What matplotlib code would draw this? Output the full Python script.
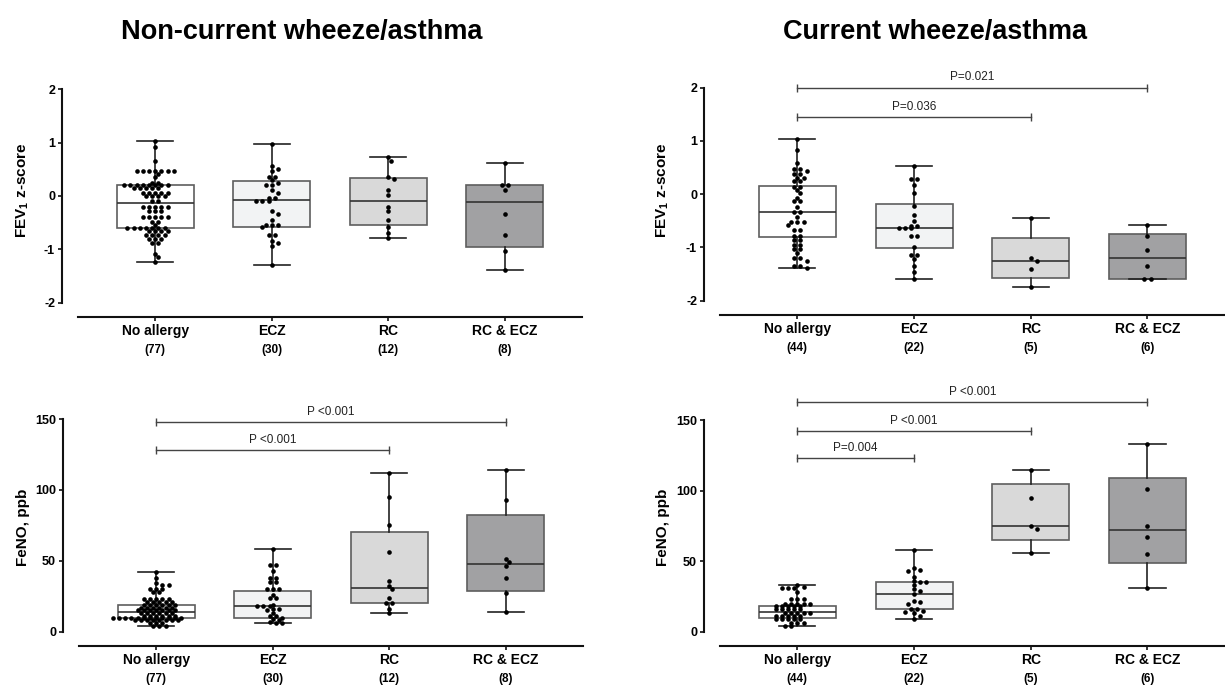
import numpy as np
import matplotlib.pyplot as plt

plt.rcParams['font.family'] = ['Liberation Sans', 'DejaVu Sans']
plt.rcParams['axes.unicode_minus'] = False
plt.rcParams['mathtext.fontset'] = 'custom'
plt.rcParams['mathtext.rm'] = 'Liberation Sans'
plt.rcParams['mathtext.bf'] = 'Liberation Sans:bold'

groups = ["No allergy", "ECZ", "RC", "RC & ECZ"]
n_noncurrent = [77, 30, 12, 8]
n_current = [44, 22, 5, 6]
box_fill = ["#ffffff", "#f2f3f4", "#d9d9d9", "#a1a1a3"]

# FEV1 z-score, non-current wheeze/asthma
fev_nc_noallergy = [1.02, 0.91, 0.66,
                    0.47, 0.47, 0.47, 0.47, 0.47, 0.47, 0.47,
                    0.41, 0.35, 0.25, 0.25,
                    0.20, 0.20, 0.20, 0.20, 0.20, 0.20, 0.20, 0.20,
                    0.15, 0.15, 0.15, 0.15, 0.15,
                    0.06, 0.06, 0.06, 0.06, 0.06,
                    0.00, 0.00, 0.00, 0.00,
                    -0.09, -0.09,
                    -0.20, -0.20, -0.20, -0.20, -0.20,
                    -0.29, -0.29, -0.29,
                    -0.39, -0.39, -0.39, -0.39, -0.39,
                    -0.49, -0.49, -0.55,
                    -0.60, -0.60, -0.60, -0.60, -0.60, -0.60, -0.60,
                    -0.66, -0.66, -0.66, -0.66,
                    -0.73, -0.73, -0.73, -0.73,
                    -0.80, -0.80, -0.80,
                    -0.88, -0.88,
                    -1.09, -1.15, -1.24]
fev_nc_ecz = [0.98, 0.56, 0.51, 0.46, 0.36, 0.36, 0.30, 0.25, 0.20, 0.20,
              0.11, 0.06, -0.04, -0.04, -0.09, -0.09, -0.09, -0.29, -0.34, -0.45,
              -0.54, -0.54, -0.54, -0.58, -0.74, -0.74, -0.84, -0.88, -0.94, -1.29]
fev_nc_rc = [0.73, 0.66, 0.36, 0.31, 0.11, 0.01, -0.20, -0.29, -0.45, -0.59, -0.70, -0.79]
fev_nc_rcecz = [0.61, 0.20, 0.20, 0.11, -0.34, -0.74, -1.04, -1.39]

# FEV1 z-score, current wheeze/asthma
fev_c_noallergy = [1.03, 0.83, 0.58, 0.47, 0.47, 0.43, 0.38, 0.38, 0.31, 0.31,
                   0.25, 0.25, 0.14, 0.14, 0.08, 0.02, -0.07, -0.13, -0.13, -0.25,
                   -0.34, -0.34, -0.43, -0.53, -0.53, -0.53, -0.58, -0.67, -0.67, -0.78,
                   -0.78, -0.87, -0.87, -0.95, -0.95, -1.03, -1.03, -1.11, -1.20, -1.20,
                   -1.25, -1.34, -1.34, -1.39]
fev_c_ecz = [0.53, 0.29, 0.29, 0.17, 0.02, -0.23, -0.39, -0.50, -0.59, -0.59,
             -0.64, -0.64, -0.64, -0.78, -0.78, -1.00, -1.14, -1.14, -1.21, -1.35,
             -1.47, -1.60]
fev_c_rc = [-0.44, -1.20, -1.25, -1.40, -1.74]
fev_c_rcecz = [-0.58, -0.79, -1.05, -1.35, -1.59, -1.59]

# FeNO ppb, non-current wheeze/asthma
feno_nc_noallergy = [42, 38, 34, 33, 33, 30, 30, 30, 28, 28,
                     23, 23, 23, 23, 23, 21, 21, 21, 21, 21,
                     19, 19, 19, 19, 19, 19, 17, 17, 17, 17, 17, 17,
                     15, 15, 15, 15, 15, 15, 15, 13, 13, 13, 13, 13, 13,
                     11, 11, 11, 11, 11, 11,
                     10, 10, 10, 10, 10, 10, 10, 10, 10, 10, 10, 10,
                     8, 8, 8, 8, 8, 8, 8, 8, 6, 6, 6, 4, 4, 4]
feno_nc_ecz = [58, 47, 47, 43, 38, 38, 35, 35, 30, 30, 30, 26, 24, 24, 19,
               18, 18, 18, 16, 16, 15, 13, 11, 11, 10, 9, 8, 7, 6, 6]
feno_nc_rc = [112, 95, 75, 56, 36, 32, 30, 24, 20, 20, 16, 13]
feno_nc_rcecz = [114, 93, 51, 49, 46, 38, 27, 14]

# FeNO ppb, current wheeze/asthma
feno_c_noallergy = [33, 32, 31, 31, 31, 28, 23, 23, 23,
                    20, 20, 20, 20, 20, 18, 18, 18, 18, 18,
                    16, 16, 16, 16, 16, 13, 13, 13, 13, 13,
                    11, 11, 11, 11, 11, 9, 9, 9, 9, 9, 6, 6, 6, 4, 4]
feno_c_ecz = [58, 45, 44, 43, 39, 36, 35, 35, 33, 30, 29, 27, 22, 21, 20,
              16, 16, 15, 14, 13, 11, 9]
feno_c_rc = [115, 95, 75, 73, 56]
feno_c_rcecz = [133, 101, 75, 67, 55, 31]

# box stats: whisker low, q1, median, q3, whisker high
fev_nc_box = [[-1.24, -0.60, -0.14, 0.21, 1.03], [-1.29, -0.58, -0.08, 0.27, 0.98],
              [-0.79, -0.55, -0.09, 0.34, 0.72], [-1.39, -0.96, -0.12, 0.21, 0.61]]
fev_c_box = [[-1.39, -0.81, -0.34, 0.16, 1.03], [-1.60, -1.02, -0.64, -0.18, 0.53],
             [-1.74, -1.57, -1.25, -0.82, -0.44], [-1.59, -1.59, -1.19, -0.75, -0.58]]
feno_nc_box = [[4, 10, 14, 19, 42], [6, 10, 18, 29, 58],
               [13, 20, 31, 70, 112], [14, 29, 48, 82, 114]]
feno_c_box = [[4, 10, 14, 18, 33], [9, 16, 27, 35, 58],
              [56, 65, 75, 105, 115], [31, 49, 72, 109, 133]]

# comparisons: (group a, group b, height, label)
fev_c_pvals = [(0, 3, 2.0, "P=0.021"), (0, 2, 1.45, "P=0.036")]
feno_nc_pvals = [(0, 3, 148, "P <0.001"), (0, 2, 128, "P <0.001")]
feno_c_pvals = [(0, 3, 163, "P <0.001"), (0, 2, 142, "P <0.001"), (0, 1, 123, "P=0.004")]

W, H = 1225, 688
fig = plt.figure(figsize=(W / 100, H / 100), dpi=100)


def swarm_x(ax, x0, values, d=6.2, dmin=4.2):
    """Prism-like rows: equal values spread side by side, nudged off the row above."""
    vals = np.asarray(values, dtype=float)
    py_all = ax.transData.transform(np.column_stack([np.zeros(len(vals)), vals]))[:, 1]
    ppu = ax.transData.transform((1, 0))[0] - ax.transData.transform((0, 0))[0]
    xs = np.full(len(vals), float(x0))
    placed = []
    for v in sorted(set(vals), reverse=True):
        idx = np.where(vals == v)[0]
        py = py_all[idx[0]]
        base = (np.arange(len(idx)) - (len(idx) - 1) / 2) * d
        for s in [0, d / 2, -d / 2, d, -d, 1.5 * d, -1.5 * d]:
            offs = base + s
            if all((o - qx) ** 2 + (py - qy) ** 2 >= dmin ** 2 for o in offs for qx, qy in placed):
                break
        placed.extend((o, py) for o in offs)
        xs[idx] = x0 + offs / ppu
    return xs


def panel(rect, data, box, counts, ylim, yticks, pvals):
    ax = fig.add_axes(rect)
    ax.set_xlim(-0.8, 3.66)
    ax.set_ylim(*ylim)

    stats = [dict(whislo=b[0], q1=b[1], med=b[2], q3=b[3], whishi=b[4], fliers=[]) for b in box]
    res = ax.bxp(stats, positions=range(4), widths=0.66, capwidths=0.31, showfliers=False,
                 patch_artist=True,
                 boxprops=dict(edgecolor="#5e5e5e", linewidth=1.2),
                 medianprops=dict(color="#333333", linewidth=1.2),
                 whiskerprops=dict(color="#222222", linewidth=1.2),
                 capprops=dict(color="#222222", linewidth=1.2),
                 manage_ticks=False, zorder=2)
    for patch, c in zip(res["boxes"], box_fill):
        patch.set_facecolor(c)

    for i, vals in enumerate(data):
        xs = swarm_x(ax, i, vals)
        ax.scatter(xs, vals, s=11, color="black", linewidths=0, zorder=3)

    for a, b, y, lab in pvals:
        ax.plot([a, b], [y, y], color="#444444", lw=1, marker="|", markersize=6,
                markeredgewidth=1, clip_on=False, zorder=4)
        ax.annotate(lab, xy=((a + b) / 2, y), xytext=(0, 3), textcoords="offset points",
                    ha="center", va="bottom", fontsize=8.5, color="#222222")

    for s in ["top", "right"]:
        ax.spines[s].set_visible(False)
    ax.spines["left"].set_bounds(yticks[0], yticks[-1])
    ax.spines["bottom"].set_position(("outward", 10))
    ax.spines["bottom"].set_bounds(-0.66, 3.66)
    for s in ["left", "bottom"]:
        ax.spines[s].set_linewidth(1.5)
        ax.spines[s].set_color("#111111")

    ax.set_yticks(yticks)
    ax.set_yticklabels([str(t) for t in yticks], fontweight="bold", fontsize=9)
    ax.set_xticks(range(4))
    ax.set_xticklabels([])
    ax.tick_params(axis="both", length=3, width=1.2, color="#111111", pad=2)
    ax.patch.set_visible(False)

    for i, (g, n) in enumerate(zip(groups, counts)):
        ax.annotate(g, xy=(i, 0), xycoords=("data", "axes fraction"), xytext=(0, -20.5),
                    textcoords="offset points", ha="center", va="center",
                    fontsize=10, fontweight="bold")
        ax.annotate(f"({n})", xy=(i, 0), xycoords=("data", "axes fraction"), xytext=(0, -34),
                    textcoords="offset points", ha="center", va="center",
                    fontsize=8.5, fontweight="bold")
    return ax


def rect(left_px, width_px, bottom_px, height_px):
    return [left_px / W, (H - bottom_px) / H, width_px / W, height_px / H]


fev_ylim = (-2, 2.35)
panel(rect(62, 4.46 * 116.5, 302.7, 4.35 * 53.4),
      [fev_nc_noallergy, fev_nc_ecz, fev_nc_rc, fev_nc_rcecz], fev_nc_box, n_noncurrent,
      fev_ylim, [-2, -1, 0, 1, 2], [])
panel(rect(704, 4.46 * 116.7, 300.7, 4.35 * 53.3),
      [fev_c_noallergy, fev_c_ecz, fev_c_rc, fev_c_rcecz], fev_c_box, n_current,
      fev_ylim, [-2, -1, 0, 1, 2], fev_c_pvals)
panel(rect(63, 4.46 * 116.5, 631.7, 160 * 1.418),
      [feno_nc_noallergy, feno_nc_ecz, feno_nc_rc, feno_nc_rcecz], feno_nc_box, n_noncurrent,
      (0, 160), [0, 50, 100, 150], feno_nc_pvals)
panel(rect(704, 4.46 * 116.7, 631.7, 176 * 1.41),
      [feno_c_noallergy, feno_c_ecz, feno_c_rc, feno_c_rcecz], feno_c_box, n_current,
      (0, 176), [0, 50, 100, 150], feno_c_pvals)

fev_label = r"FEV$_\mathbf{1}$ z-score"
for x in (23, 663):
    fig.text(x / W, 1 - 190 / H, fev_label, rotation=90, ha="center", va="center",
             fontsize=11, fontweight="bold")
    fig.text(x / W, 1 - 527 / H, "FeNO, ppb", rotation=90, ha="center", va="center",
             fontsize=11, fontweight="bold")

fig.text(302 / W, 1 - 39 / H, "Non-current wheeze/asthma", ha="center", va="baseline",
         fontsize=19.5, fontweight="bold")
fig.text(935 / W, 1 - 39 / H, "Current wheeze/asthma", ha="center", va="baseline",
         fontsize=19.5, fontweight="bold")

fig.savefig("out.png", dpi=100, facecolor="white")
